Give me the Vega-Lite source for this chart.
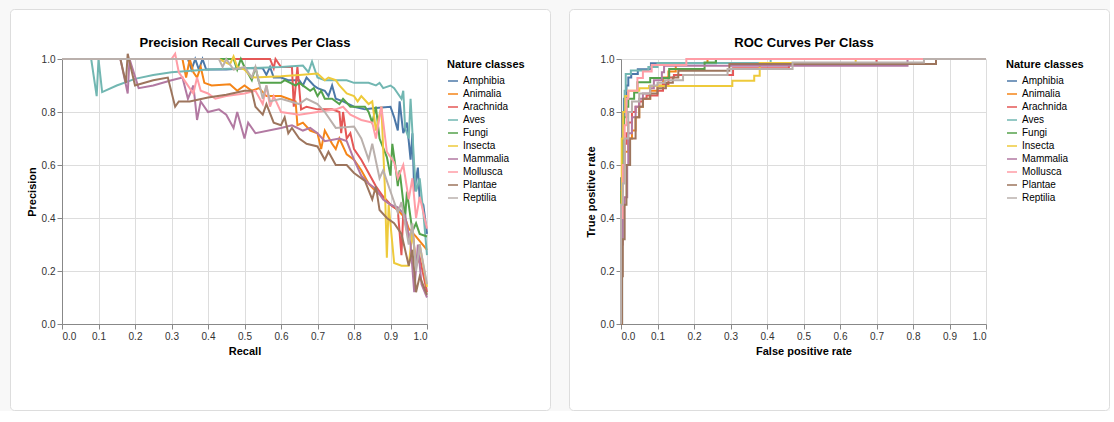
{
  "$schema": "https://vega.github.io/schema/vega-lite/v6.json",
  "background": "#f8f8f8",
  "padding": {"left": 9, "top": 8, "right": 0, "bottom": 0},
  "spacing": 17,
  "datasets": {
    "pr": [
      {"class": "Amphibia", "recall": 0, "precision": 1},
      {"class": "Amphibia", "recall": 0.345, "precision": 1},
      {"class": "Amphibia", "recall": 0.355, "precision": 0.96},
      {"class": "Amphibia", "recall": 0.365, "precision": 1},
      {"class": "Amphibia", "recall": 0.375, "precision": 0.96},
      {"class": "Amphibia", "recall": 0.385, "precision": 1},
      {"class": "Amphibia", "recall": 0.395, "precision": 0.96},
      {"class": "Amphibia", "recall": 0.45, "precision": 0.96},
      {"class": "Amphibia", "recall": 0.5, "precision": 0.965},
      {"class": "Amphibia", "recall": 0.55, "precision": 0.965},
      {"class": "Amphibia", "recall": 0.56, "precision": 0.94},
      {"class": "Amphibia", "recall": 0.57, "precision": 0.97},
      {"class": "Amphibia", "recall": 0.58, "precision": 0.93},
      {"class": "Amphibia", "recall": 0.6, "precision": 0.93},
      {"class": "Amphibia", "recall": 0.62, "precision": 0.92},
      {"class": "Amphibia", "recall": 0.65, "precision": 0.92},
      {"class": "Amphibia", "recall": 0.66, "precision": 0.9},
      {"class": "Amphibia", "recall": 0.67, "precision": 0.93},
      {"class": "Amphibia", "recall": 0.69, "precision": 0.9},
      {"class": "Amphibia", "recall": 0.7, "precision": 0.89},
      {"class": "Amphibia", "recall": 0.72, "precision": 0.88},
      {"class": "Amphibia", "recall": 0.73, "precision": 0.86},
      {"class": "Amphibia", "recall": 0.74, "precision": 0.9},
      {"class": "Amphibia", "recall": 0.75, "precision": 0.85},
      {"class": "Amphibia", "recall": 0.77, "precision": 0.84},
      {"class": "Amphibia", "recall": 0.8, "precision": 0.82},
      {"class": "Amphibia", "recall": 0.83, "precision": 0.81},
      {"class": "Amphibia", "recall": 0.86, "precision": 0.815},
      {"class": "Amphibia", "recall": 0.9, "precision": 0.82},
      {"class": "Amphibia", "recall": 0.91, "precision": 0.78},
      {"class": "Amphibia", "recall": 0.92, "precision": 0.73},
      {"class": "Amphibia", "recall": 0.925, "precision": 0.84},
      {"class": "Amphibia", "recall": 0.935, "precision": 0.72},
      {"class": "Amphibia", "recall": 0.945, "precision": 0.76},
      {"class": "Amphibia", "recall": 0.955, "precision": 0.62},
      {"class": "Amphibia", "recall": 0.96, "precision": 0.72},
      {"class": "Amphibia", "recall": 0.965, "precision": 0.5},
      {"class": "Amphibia", "recall": 0.975, "precision": 0.59},
      {"class": "Amphibia", "recall": 0.98, "precision": 0.47},
      {"class": "Amphibia", "recall": 0.99, "precision": 0.45},
      {"class": "Amphibia", "recall": 1.0, "precision": 0.34},

      {"class": "Animalia", "recall": 0, "precision": 1},
      {"class": "Animalia", "recall": 0.33, "precision": 1},
      {"class": "Animalia", "recall": 0.34, "precision": 0.93},
      {"class": "Animalia", "recall": 0.35, "precision": 1},
      {"class": "Animalia", "recall": 0.36, "precision": 0.95},
      {"class": "Animalia", "recall": 0.37, "precision": 0.93},
      {"class": "Animalia", "recall": 0.38, "precision": 0.97},
      {"class": "Animalia", "recall": 0.39, "precision": 0.91},
      {"class": "Animalia", "recall": 0.41, "precision": 0.9},
      {"class": "Animalia", "recall": 0.46, "precision": 0.905},
      {"class": "Animalia", "recall": 0.48, "precision": 0.88},
      {"class": "Animalia", "recall": 0.5, "precision": 0.9},
      {"class": "Animalia", "recall": 0.52, "precision": 0.88},
      {"class": "Animalia", "recall": 0.54, "precision": 0.89},
      {"class": "Animalia", "recall": 0.56, "precision": 0.86},
      {"class": "Animalia", "recall": 0.6, "precision": 0.86},
      {"class": "Animalia", "recall": 0.62, "precision": 0.85},
      {"class": "Animalia", "recall": 0.64, "precision": 0.84},
      {"class": "Animalia", "recall": 0.645, "precision": 0.75},
      {"class": "Animalia", "recall": 0.66, "precision": 0.76},
      {"class": "Animalia", "recall": 0.68, "precision": 0.73},
      {"class": "Animalia", "recall": 0.7, "precision": 0.72},
      {"class": "Animalia", "recall": 0.71, "precision": 0.66},
      {"class": "Animalia", "recall": 0.72, "precision": 0.73},
      {"class": "Animalia", "recall": 0.74, "precision": 0.68},
      {"class": "Animalia", "recall": 0.75, "precision": 0.66},
      {"class": "Animalia", "recall": 0.76, "precision": 0.7},
      {"class": "Animalia", "recall": 0.78, "precision": 0.64},
      {"class": "Animalia", "recall": 0.8, "precision": 0.62},
      {"class": "Animalia", "recall": 0.82, "precision": 0.58},
      {"class": "Animalia", "recall": 0.84, "precision": 0.53},
      {"class": "Animalia", "recall": 0.86, "precision": 0.5},
      {"class": "Animalia", "recall": 0.88, "precision": 0.48},
      {"class": "Animalia", "recall": 0.9, "precision": 0.45},
      {"class": "Animalia", "recall": 0.92, "precision": 0.43},
      {"class": "Animalia", "recall": 0.94, "precision": 0.4},
      {"class": "Animalia", "recall": 0.95, "precision": 0.36},
      {"class": "Animalia", "recall": 0.97, "precision": 0.33},
      {"class": "Animalia", "recall": 1.0, "precision": 0.28},

      {"class": "Arachnida", "recall": 0, "precision": 1},
      {"class": "Arachnida", "recall": 0.57, "precision": 1},
      {"class": "Arachnida", "recall": 0.58, "precision": 0.965},
      {"class": "Arachnida", "recall": 0.585, "precision": 1},
      {"class": "Arachnida", "recall": 0.6, "precision": 0.97},
      {"class": "Arachnida", "recall": 0.63, "precision": 0.97},
      {"class": "Arachnida", "recall": 0.635, "precision": 0.82},
      {"class": "Arachnida", "recall": 0.645, "precision": 0.97},
      {"class": "Arachnida", "recall": 0.655, "precision": 0.81},
      {"class": "Arachnida", "recall": 0.67, "precision": 0.82},
      {"class": "Arachnida", "recall": 0.7, "precision": 0.81},
      {"class": "Arachnida", "recall": 0.74, "precision": 0.81},
      {"class": "Arachnida", "recall": 0.76, "precision": 0.8},
      {"class": "Arachnida", "recall": 0.765, "precision": 0.72},
      {"class": "Arachnida", "recall": 0.77, "precision": 0.8},
      {"class": "Arachnida", "recall": 0.78, "precision": 0.7},
      {"class": "Arachnida", "recall": 0.79, "precision": 0.72},
      {"class": "Arachnida", "recall": 0.8, "precision": 0.66},
      {"class": "Arachnida", "recall": 0.82, "precision": 0.62},
      {"class": "Arachnida", "recall": 0.84, "precision": 0.57},
      {"class": "Arachnida", "recall": 0.86, "precision": 0.52},
      {"class": "Arachnida", "recall": 0.88, "precision": 0.48},
      {"class": "Arachnida", "recall": 0.9, "precision": 0.45},
      {"class": "Arachnida", "recall": 0.92, "precision": 0.43},
      {"class": "Arachnida", "recall": 0.93, "precision": 0.26},
      {"class": "Arachnida", "recall": 0.935, "precision": 0.42},
      {"class": "Arachnida", "recall": 0.95, "precision": 0.32},
      {"class": "Arachnida", "recall": 0.96, "precision": 0.36},
      {"class": "Arachnida", "recall": 0.97, "precision": 0.22},
      {"class": "Arachnida", "recall": 0.98, "precision": 0.25},
      {"class": "Arachnida", "recall": 1.0, "precision": 0.12},

      {"class": "Aves", "recall": 0, "precision": 1},
      {"class": "Aves", "recall": 0.08, "precision": 1},
      {"class": "Aves", "recall": 0.095, "precision": 0.86},
      {"class": "Aves", "recall": 0.1, "precision": 1},
      {"class": "Aves", "recall": 0.11, "precision": 0.875},
      {"class": "Aves", "recall": 0.15, "precision": 0.9},
      {"class": "Aves", "recall": 0.2, "precision": 0.925},
      {"class": "Aves", "recall": 0.25, "precision": 0.94},
      {"class": "Aves", "recall": 0.3, "precision": 0.95},
      {"class": "Aves", "recall": 0.4, "precision": 0.96},
      {"class": "Aves", "recall": 0.5, "precision": 0.965},
      {"class": "Aves", "recall": 0.6, "precision": 0.97},
      {"class": "Aves", "recall": 0.66, "precision": 0.975},
      {"class": "Aves", "recall": 0.675, "precision": 0.95},
      {"class": "Aves", "recall": 0.685, "precision": 0.99},
      {"class": "Aves", "recall": 0.7, "precision": 0.93},
      {"class": "Aves", "recall": 0.72, "precision": 0.92},
      {"class": "Aves", "recall": 0.78, "precision": 0.92},
      {"class": "Aves", "recall": 0.8, "precision": 0.91},
      {"class": "Aves", "recall": 0.84, "precision": 0.91},
      {"class": "Aves", "recall": 0.86, "precision": 0.9},
      {"class": "Aves", "recall": 0.87, "precision": 0.91},
      {"class": "Aves", "recall": 0.88, "precision": 0.89},
      {"class": "Aves", "recall": 0.9, "precision": 0.9},
      {"class": "Aves", "recall": 0.91, "precision": 0.89},
      {"class": "Aves", "recall": 0.92, "precision": 0.87},
      {"class": "Aves", "recall": 0.93, "precision": 0.85},
      {"class": "Aves", "recall": 0.935, "precision": 0.88},
      {"class": "Aves", "recall": 0.94, "precision": 0.74},
      {"class": "Aves", "recall": 0.95, "precision": 0.7},
      {"class": "Aves", "recall": 0.955, "precision": 0.85},
      {"class": "Aves", "recall": 0.965, "precision": 0.6},
      {"class": "Aves", "recall": 0.97, "precision": 0.5},
      {"class": "Aves", "recall": 0.98, "precision": 0.55},
      {"class": "Aves", "recall": 0.99, "precision": 0.42},
      {"class": "Aves", "recall": 1.0, "precision": 0.26},

      {"class": "Fungi", "recall": 0, "precision": 1},
      {"class": "Fungi", "recall": 0.47, "precision": 1},
      {"class": "Fungi", "recall": 0.48, "precision": 0.96},
      {"class": "Fungi", "recall": 0.49, "precision": 1},
      {"class": "Fungi", "recall": 0.5, "precision": 0.97},
      {"class": "Fungi", "recall": 0.52, "precision": 0.92},
      {"class": "Fungi", "recall": 0.53, "precision": 0.97},
      {"class": "Fungi", "recall": 0.54, "precision": 0.91},
      {"class": "Fungi", "recall": 0.6, "precision": 0.91},
      {"class": "Fungi", "recall": 0.61, "precision": 0.92},
      {"class": "Fungi", "recall": 0.64, "precision": 0.9},
      {"class": "Fungi", "recall": 0.65, "precision": 0.91},
      {"class": "Fungi", "recall": 0.68, "precision": 0.88},
      {"class": "Fungi", "recall": 0.69, "precision": 0.89},
      {"class": "Fungi", "recall": 0.7, "precision": 0.86},
      {"class": "Fungi", "recall": 0.71, "precision": 0.88},
      {"class": "Fungi", "recall": 0.72, "precision": 0.85},
      {"class": "Fungi", "recall": 0.74, "precision": 0.85},
      {"class": "Fungi", "recall": 0.76, "precision": 0.83},
      {"class": "Fungi", "recall": 0.77, "precision": 0.85},
      {"class": "Fungi", "recall": 0.79, "precision": 0.82},
      {"class": "Fungi", "recall": 0.83, "precision": 0.82},
      {"class": "Fungi", "recall": 0.84, "precision": 0.8},
      {"class": "Fungi", "recall": 0.85, "precision": 0.76},
      {"class": "Fungi", "recall": 0.86, "precision": 0.82},
      {"class": "Fungi", "recall": 0.87, "precision": 0.7},
      {"class": "Fungi", "recall": 0.89, "precision": 0.63},
      {"class": "Fungi", "recall": 0.9, "precision": 0.56},
      {"class": "Fungi", "recall": 0.905, "precision": 0.68},
      {"class": "Fungi", "recall": 0.915, "precision": 0.58},
      {"class": "Fungi", "recall": 0.92, "precision": 0.52},
      {"class": "Fungi", "recall": 0.925, "precision": 0.58},
      {"class": "Fungi", "recall": 0.94, "precision": 0.4},
      {"class": "Fungi", "recall": 0.945, "precision": 0.5},
      {"class": "Fungi", "recall": 0.96, "precision": 0.35},
      {"class": "Fungi", "recall": 0.97, "precision": 0.38},
      {"class": "Fungi", "recall": 0.98, "precision": 0.34},
      {"class": "Fungi", "recall": 1.0, "precision": 0.33},

      {"class": "Insecta", "recall": 0, "precision": 1},
      {"class": "Insecta", "recall": 0.43, "precision": 1},
      {"class": "Insecta", "recall": 0.46, "precision": 0.98},
      {"class": "Insecta", "recall": 0.47, "precision": 1.01},
      {"class": "Insecta", "recall": 0.48, "precision": 0.97},
      {"class": "Insecta", "recall": 0.5, "precision": 0.96},
      {"class": "Insecta", "recall": 0.52, "precision": 0.93},
      {"class": "Insecta", "recall": 0.6, "precision": 0.935},
      {"class": "Insecta", "recall": 0.65, "precision": 0.94},
      {"class": "Insecta", "recall": 0.7, "precision": 0.945},
      {"class": "Insecta", "recall": 0.72, "precision": 0.92},
      {"class": "Insecta", "recall": 0.73, "precision": 0.93},
      {"class": "Insecta", "recall": 0.75, "precision": 0.92},
      {"class": "Insecta", "recall": 0.76, "precision": 0.9},
      {"class": "Insecta", "recall": 0.78, "precision": 0.87},
      {"class": "Insecta", "recall": 0.8, "precision": 0.86},
      {"class": "Insecta", "recall": 0.81, "precision": 0.84},
      {"class": "Insecta", "recall": 0.82, "precision": 0.86},
      {"class": "Insecta", "recall": 0.84, "precision": 0.83},
      {"class": "Insecta", "recall": 0.85, "precision": 0.84},
      {"class": "Insecta", "recall": 0.86, "precision": 0.73},
      {"class": "Insecta", "recall": 0.875, "precision": 0.82},
      {"class": "Insecta", "recall": 0.885, "precision": 0.5},
      {"class": "Insecta", "recall": 0.89, "precision": 0.25},
      {"class": "Insecta", "recall": 0.895, "precision": 0.45},
      {"class": "Insecta", "recall": 0.91, "precision": 0.23},
      {"class": "Insecta", "recall": 0.93, "precision": 0.22},
      {"class": "Insecta", "recall": 0.95, "precision": 0.22},
      {"class": "Insecta", "recall": 0.96, "precision": 0.35},
      {"class": "Insecta", "recall": 0.97, "precision": 0.22},
      {"class": "Insecta", "recall": 0.98, "precision": 0.3},
      {"class": "Insecta", "recall": 1.0, "precision": 0.14},

      {"class": "Mammalia", "recall": 0, "precision": 1},
      {"class": "Mammalia", "recall": 0.16, "precision": 1},
      {"class": "Mammalia", "recall": 0.18, "precision": 0.87},
      {"class": "Mammalia", "recall": 0.185, "precision": 1},
      {"class": "Mammalia", "recall": 0.21, "precision": 0.89},
      {"class": "Mammalia", "recall": 0.25, "precision": 0.9},
      {"class": "Mammalia", "recall": 0.3, "precision": 0.92},
      {"class": "Mammalia", "recall": 0.33, "precision": 0.93},
      {"class": "Mammalia", "recall": 0.345, "precision": 0.85},
      {"class": "Mammalia", "recall": 0.36, "precision": 0.9},
      {"class": "Mammalia", "recall": 0.37, "precision": 0.77},
      {"class": "Mammalia", "recall": 0.38, "precision": 0.84},
      {"class": "Mammalia", "recall": 0.4, "precision": 0.8},
      {"class": "Mammalia", "recall": 0.43, "precision": 0.81},
      {"class": "Mammalia", "recall": 0.45, "precision": 0.79},
      {"class": "Mammalia", "recall": 0.47, "precision": 0.74},
      {"class": "Mammalia", "recall": 0.48, "precision": 0.8},
      {"class": "Mammalia", "recall": 0.5, "precision": 0.7},
      {"class": "Mammalia", "recall": 0.51, "precision": 0.76},
      {"class": "Mammalia", "recall": 0.53, "precision": 0.72},
      {"class": "Mammalia", "recall": 0.6, "precision": 0.74},
      {"class": "Mammalia", "recall": 0.63, "precision": 0.75},
      {"class": "Mammalia", "recall": 0.66, "precision": 0.73},
      {"class": "Mammalia", "recall": 0.68, "precision": 0.74},
      {"class": "Mammalia", "recall": 0.7, "precision": 0.72},
      {"class": "Mammalia", "recall": 0.72, "precision": 0.69},
      {"class": "Mammalia", "recall": 0.76, "precision": 0.7},
      {"class": "Mammalia", "recall": 0.78, "precision": 0.69},
      {"class": "Mammalia", "recall": 0.8, "precision": 0.62},
      {"class": "Mammalia", "recall": 0.82, "precision": 0.56},
      {"class": "Mammalia", "recall": 0.84, "precision": 0.53},
      {"class": "Mammalia", "recall": 0.86, "precision": 0.51},
      {"class": "Mammalia", "recall": 0.88, "precision": 0.47},
      {"class": "Mammalia", "recall": 0.9, "precision": 0.45},
      {"class": "Mammalia", "recall": 0.92, "precision": 0.44},
      {"class": "Mammalia", "recall": 0.94, "precision": 0.41},
      {"class": "Mammalia", "recall": 0.955, "precision": 0.3},
      {"class": "Mammalia", "recall": 0.965, "precision": 0.12},
      {"class": "Mammalia", "recall": 0.975, "precision": 0.3},
      {"class": "Mammalia", "recall": 0.985, "precision": 0.15},
      {"class": "Mammalia", "recall": 1.0, "precision": 0.1},

      {"class": "Mollusca", "recall": 0, "precision": 1},
      {"class": "Mollusca", "recall": 0.3, "precision": 1},
      {"class": "Mollusca", "recall": 0.31, "precision": 1.02},
      {"class": "Mollusca", "recall": 0.32, "precision": 0.95},
      {"class": "Mollusca", "recall": 0.34, "precision": 0.91},
      {"class": "Mollusca", "recall": 0.36, "precision": 0.87},
      {"class": "Mollusca", "recall": 0.37, "precision": 0.93},
      {"class": "Mollusca", "recall": 0.38, "precision": 0.88},
      {"class": "Mollusca", "recall": 0.4, "precision": 0.87},
      {"class": "Mollusca", "recall": 0.42, "precision": 0.85},
      {"class": "Mollusca", "recall": 0.45, "precision": 0.86},
      {"class": "Mollusca", "recall": 0.5, "precision": 0.87},
      {"class": "Mollusca", "recall": 0.53, "precision": 0.88},
      {"class": "Mollusca", "recall": 0.55, "precision": 0.83},
      {"class": "Mollusca", "recall": 0.56, "precision": 0.9},
      {"class": "Mollusca", "recall": 0.57, "precision": 0.82},
      {"class": "Mollusca", "recall": 0.58, "precision": 0.86},
      {"class": "Mollusca", "recall": 0.6, "precision": 0.8},
      {"class": "Mollusca", "recall": 0.65, "precision": 0.79},
      {"class": "Mollusca", "recall": 0.7, "precision": 0.8},
      {"class": "Mollusca", "recall": 0.75, "precision": 0.81},
      {"class": "Mollusca", "recall": 0.77, "precision": 0.82},
      {"class": "Mollusca", "recall": 0.79, "precision": 0.79},
      {"class": "Mollusca", "recall": 0.82, "precision": 0.77},
      {"class": "Mollusca", "recall": 0.85, "precision": 0.76},
      {"class": "Mollusca", "recall": 0.86, "precision": 0.7},
      {"class": "Mollusca", "recall": 0.875, "precision": 0.82},
      {"class": "Mollusca", "recall": 0.89, "precision": 0.65},
      {"class": "Mollusca", "recall": 0.91, "precision": 0.61},
      {"class": "Mollusca", "recall": 0.92, "precision": 0.55},
      {"class": "Mollusca", "recall": 0.935, "precision": 0.6},
      {"class": "Mollusca", "recall": 0.95, "precision": 0.47},
      {"class": "Mollusca", "recall": 0.96, "precision": 0.55},
      {"class": "Mollusca", "recall": 0.97, "precision": 0.4},
      {"class": "Mollusca", "recall": 0.98, "precision": 0.48},
      {"class": "Mollusca", "recall": 1.0, "precision": 0.36},

      {"class": "Plantae", "recall": 0, "precision": 1},
      {"class": "Plantae", "recall": 0.16, "precision": 1},
      {"class": "Plantae", "recall": 0.175, "precision": 0.91},
      {"class": "Plantae", "recall": 0.18, "precision": 1.02},
      {"class": "Plantae", "recall": 0.2, "precision": 0.9},
      {"class": "Plantae", "recall": 0.25, "precision": 0.92},
      {"class": "Plantae", "recall": 0.29, "precision": 0.93},
      {"class": "Plantae", "recall": 0.31, "precision": 0.82},
      {"class": "Plantae", "recall": 0.32, "precision": 0.84},
      {"class": "Plantae", "recall": 0.35, "precision": 0.84},
      {"class": "Plantae", "recall": 0.4, "precision": 0.855},
      {"class": "Plantae", "recall": 0.45, "precision": 0.865},
      {"class": "Plantae", "recall": 0.5, "precision": 0.88},
      {"class": "Plantae", "recall": 0.52, "precision": 0.88},
      {"class": "Plantae", "recall": 0.53, "precision": 0.82},
      {"class": "Plantae", "recall": 0.55, "precision": 0.79},
      {"class": "Plantae", "recall": 0.56, "precision": 0.83},
      {"class": "Plantae", "recall": 0.58, "precision": 0.76},
      {"class": "Plantae", "recall": 0.6, "precision": 0.75},
      {"class": "Plantae", "recall": 0.61, "precision": 0.78},
      {"class": "Plantae", "recall": 0.62, "precision": 0.72},
      {"class": "Plantae", "recall": 0.63, "precision": 0.74},
      {"class": "Plantae", "recall": 0.65, "precision": 0.7},
      {"class": "Plantae", "recall": 0.67, "precision": 0.68},
      {"class": "Plantae", "recall": 0.7, "precision": 0.67},
      {"class": "Plantae", "recall": 0.72, "precision": 0.62},
      {"class": "Plantae", "recall": 0.73, "precision": 0.65},
      {"class": "Plantae", "recall": 0.75, "precision": 0.6},
      {"class": "Plantae", "recall": 0.78, "precision": 0.6},
      {"class": "Plantae", "recall": 0.8, "precision": 0.57},
      {"class": "Plantae", "recall": 0.83, "precision": 0.54},
      {"class": "Plantae", "recall": 0.85, "precision": 0.47},
      {"class": "Plantae", "recall": 0.86, "precision": 0.52},
      {"class": "Plantae", "recall": 0.87, "precision": 0.43},
      {"class": "Plantae", "recall": 0.89, "precision": 0.4},
      {"class": "Plantae", "recall": 0.91, "precision": 0.38},
      {"class": "Plantae", "recall": 0.93, "precision": 0.34},
      {"class": "Plantae", "recall": 0.95, "precision": 0.22},
      {"class": "Plantae", "recall": 0.96, "precision": 0.28},
      {"class": "Plantae", "recall": 0.97, "precision": 0.12},
      {"class": "Plantae", "recall": 0.98, "precision": 0.18},
      {"class": "Plantae", "recall": 1.0, "precision": 0.11},

      {"class": "Reptilia", "recall": 0, "precision": 1},
      {"class": "Reptilia", "recall": 0.43, "precision": 1},
      {"class": "Reptilia", "recall": 0.44, "precision": 0.97},
      {"class": "Reptilia", "recall": 0.45, "precision": 1},
      {"class": "Reptilia", "recall": 0.47, "precision": 0.96},
      {"class": "Reptilia", "recall": 0.5, "precision": 0.97},
      {"class": "Reptilia", "recall": 0.52, "precision": 0.93},
      {"class": "Reptilia", "recall": 0.53, "precision": 0.97},
      {"class": "Reptilia", "recall": 0.55, "precision": 0.85},
      {"class": "Reptilia", "recall": 0.56, "precision": 0.9},
      {"class": "Reptilia", "recall": 0.57, "precision": 0.84},
      {"class": "Reptilia", "recall": 0.6, "precision": 0.85},
      {"class": "Reptilia", "recall": 0.65, "precision": 0.83},
      {"class": "Reptilia", "recall": 0.67, "precision": 0.85},
      {"class": "Reptilia", "recall": 0.7, "precision": 0.83},
      {"class": "Reptilia", "recall": 0.72, "precision": 0.8},
      {"class": "Reptilia", "recall": 0.75, "precision": 0.74},
      {"class": "Reptilia", "recall": 0.8, "precision": 0.745},
      {"class": "Reptilia", "recall": 0.82, "precision": 0.7},
      {"class": "Reptilia", "recall": 0.84, "precision": 0.62},
      {"class": "Reptilia", "recall": 0.85, "precision": 0.68},
      {"class": "Reptilia", "recall": 0.87, "precision": 0.55},
      {"class": "Reptilia", "recall": 0.88, "precision": 0.58},
      {"class": "Reptilia", "recall": 0.9, "precision": 0.5},
      {"class": "Reptilia", "recall": 0.92, "precision": 0.42},
      {"class": "Reptilia", "recall": 0.93, "precision": 0.46},
      {"class": "Reptilia", "recall": 0.95, "precision": 0.3},
      {"class": "Reptilia", "recall": 0.96, "precision": 0.38},
      {"class": "Reptilia", "recall": 0.97, "precision": 0.2},
      {"class": "Reptilia", "recall": 0.98, "precision": 0.3},
      {"class": "Reptilia", "recall": 1.0, "precision": 0.15}
    ],
    "roc": [
      {"class": "Amphibia", "fpr": 0, "tpr": 0},
      {"class": "Amphibia", "fpr": 0, "tpr": 0.55},
      {"class": "Amphibia", "fpr": 0.003, "tpr": 0.7},
      {"class": "Amphibia", "fpr": 0.008, "tpr": 0.85},
      {"class": "Amphibia", "fpr": 0.015, "tpr": 0.9},
      {"class": "Amphibia", "fpr": 0.02, "tpr": 0.93},
      {"class": "Amphibia", "fpr": 0.028, "tpr": 0.943},
      {"class": "Amphibia", "fpr": 0.046, "tpr": 0.961},
      {"class": "Amphibia", "fpr": 0.082, "tpr": 0.984},
      {"class": "Amphibia", "fpr": 0.26, "tpr": 1},
      {"class": "Amphibia", "fpr": 1, "tpr": 1},

      {"class": "Animalia", "fpr": 0, "tpr": 0},
      {"class": "Animalia", "fpr": 0, "tpr": 0.5},
      {"class": "Animalia", "fpr": 0.005, "tpr": 0.6},
      {"class": "Animalia", "fpr": 0.01, "tpr": 0.65},
      {"class": "Animalia", "fpr": 0.02, "tpr": 0.7},
      {"class": "Animalia", "fpr": 0.03, "tpr": 0.73},
      {"class": "Animalia", "fpr": 0.04, "tpr": 0.78},
      {"class": "Animalia", "fpr": 0.05, "tpr": 0.82},
      {"class": "Animalia", "fpr": 0.06, "tpr": 0.85},
      {"class": "Animalia", "fpr": 0.08, "tpr": 0.88},
      {"class": "Animalia", "fpr": 0.1, "tpr": 0.9},
      {"class": "Animalia", "fpr": 0.115, "tpr": 0.93},
      {"class": "Animalia", "fpr": 0.13, "tpr": 0.953},
      {"class": "Animalia", "fpr": 0.15, "tpr": 0.985},
      {"class": "Animalia", "fpr": 0.237, "tpr": 1},
      {"class": "Animalia", "fpr": 1, "tpr": 1},

      {"class": "Arachnida", "fpr": 0, "tpr": 0},
      {"class": "Arachnida", "fpr": 0, "tpr": 0.5},
      {"class": "Arachnida", "fpr": 0.005, "tpr": 0.6},
      {"class": "Arachnida", "fpr": 0.01, "tpr": 0.68},
      {"class": "Arachnida", "fpr": 0.015, "tpr": 0.72},
      {"class": "Arachnida", "fpr": 0.02, "tpr": 0.76},
      {"class": "Arachnida", "fpr": 0.03, "tpr": 0.8},
      {"class": "Arachnida", "fpr": 0.04, "tpr": 0.82},
      {"class": "Arachnida", "fpr": 0.05, "tpr": 0.84},
      {"class": "Arachnida", "fpr": 0.06, "tpr": 0.85},
      {"class": "Arachnida", "fpr": 0.07, "tpr": 0.862},
      {"class": "Arachnida", "fpr": 0.1, "tpr": 0.88},
      {"class": "Arachnida", "fpr": 0.115, "tpr": 0.906},
      {"class": "Arachnida", "fpr": 0.13, "tpr": 0.93},
      {"class": "Arachnida", "fpr": 0.145, "tpr": 0.94},
      {"class": "Arachnida", "fpr": 0.307, "tpr": 0.965},
      {"class": "Arachnida", "fpr": 0.46, "tpr": 0.985},
      {"class": "Arachnida", "fpr": 0.7, "tpr": 1},
      {"class": "Arachnida", "fpr": 1, "tpr": 1},

      {"class": "Aves", "fpr": 0, "tpr": 0},
      {"class": "Aves", "fpr": 0.003, "tpr": 0.6},
      {"class": "Aves", "fpr": 0.006, "tpr": 0.8},
      {"class": "Aves", "fpr": 0.01, "tpr": 0.88},
      {"class": "Aves", "fpr": 0.013, "tpr": 0.943},
      {"class": "Aves", "fpr": 0.027, "tpr": 0.957},
      {"class": "Aves", "fpr": 0.075, "tpr": 0.97},
      {"class": "Aves", "fpr": 0.1, "tpr": 0.985},
      {"class": "Aves", "fpr": 0.41, "tpr": 1},
      {"class": "Aves", "fpr": 1, "tpr": 1},

      {"class": "Fungi", "fpr": 0, "tpr": 0},
      {"class": "Fungi", "fpr": 0, "tpr": 0.5},
      {"class": "Fungi", "fpr": 0.004, "tpr": 0.7},
      {"class": "Fungi", "fpr": 0.008, "tpr": 0.78},
      {"class": "Fungi", "fpr": 0.015, "tpr": 0.82},
      {"class": "Fungi", "fpr": 0.02, "tpr": 0.85},
      {"class": "Fungi", "fpr": 0.036, "tpr": 0.874},
      {"class": "Fungi", "fpr": 0.045, "tpr": 0.912},
      {"class": "Fungi", "fpr": 0.08, "tpr": 0.928},
      {"class": "Fungi", "fpr": 0.132, "tpr": 0.962},
      {"class": "Fungi", "fpr": 0.229, "tpr": 0.987},
      {"class": "Fungi", "fpr": 0.26, "tpr": 1},
      {"class": "Fungi", "fpr": 1, "tpr": 1},

      {"class": "Insecta", "fpr": 0, "tpr": 0},
      {"class": "Insecta", "fpr": 0, "tpr": 0.45},
      {"class": "Insecta", "fpr": 0.002, "tpr": 0.7},
      {"class": "Insecta", "fpr": 0.006, "tpr": 0.8},
      {"class": "Insecta", "fpr": 0.012, "tpr": 0.86},
      {"class": "Insecta", "fpr": 0.02, "tpr": 0.88},
      {"class": "Insecta", "fpr": 0.05, "tpr": 0.89},
      {"class": "Insecta", "fpr": 0.077, "tpr": 0.898},
      {"class": "Insecta", "fpr": 0.305, "tpr": 0.918},
      {"class": "Insecta", "fpr": 0.365, "tpr": 0.937},
      {"class": "Insecta", "fpr": 0.38, "tpr": 0.985},
      {"class": "Insecta", "fpr": 0.643, "tpr": 1},
      {"class": "Insecta", "fpr": 1, "tpr": 1},

      {"class": "Mammalia", "fpr": 0, "tpr": 0},
      {"class": "Mammalia", "fpr": 0, "tpr": 0.3},
      {"class": "Mammalia", "fpr": 0.005, "tpr": 0.45},
      {"class": "Mammalia", "fpr": 0.01, "tpr": 0.478},
      {"class": "Mammalia", "fpr": 0.017, "tpr": 0.6},
      {"class": "Mammalia", "fpr": 0.02, "tpr": 0.72},
      {"class": "Mammalia", "fpr": 0.03, "tpr": 0.78},
      {"class": "Mammalia", "fpr": 0.04, "tpr": 0.82},
      {"class": "Mammalia", "fpr": 0.05, "tpr": 0.85},
      {"class": "Mammalia", "fpr": 0.06, "tpr": 0.87},
      {"class": "Mammalia", "fpr": 0.08, "tpr": 0.89},
      {"class": "Mammalia", "fpr": 0.09, "tpr": 0.92},
      {"class": "Mammalia", "fpr": 0.112, "tpr": 0.95},
      {"class": "Mammalia", "fpr": 0.118, "tpr": 0.975},
      {"class": "Mammalia", "fpr": 0.785, "tpr": 1},
      {"class": "Mammalia", "fpr": 1, "tpr": 1},

      {"class": "Mollusca", "fpr": 0, "tpr": 0},
      {"class": "Mollusca", "fpr": 0, "tpr": 0.4},
      {"class": "Mollusca", "fpr": 0.005, "tpr": 0.6},
      {"class": "Mollusca", "fpr": 0.01, "tpr": 0.75},
      {"class": "Mollusca", "fpr": 0.015, "tpr": 0.85},
      {"class": "Mollusca", "fpr": 0.02, "tpr": 0.88},
      {"class": "Mollusca", "fpr": 0.045, "tpr": 0.928},
      {"class": "Mollusca", "fpr": 0.06, "tpr": 0.953},
      {"class": "Mollusca", "fpr": 0.084, "tpr": 0.977},
      {"class": "Mollusca", "fpr": 0.179, "tpr": 1},
      {"class": "Mollusca", "fpr": 1, "tpr": 1},

      {"class": "Plantae", "fpr": 0, "tpr": 0},
      {"class": "Plantae", "fpr": 0.003, "tpr": 0.18},
      {"class": "Plantae", "fpr": 0.005, "tpr": 0.32},
      {"class": "Plantae", "fpr": 0.01, "tpr": 0.45},
      {"class": "Plantae", "fpr": 0.015, "tpr": 0.6},
      {"class": "Plantae", "fpr": 0.025, "tpr": 0.7},
      {"class": "Plantae", "fpr": 0.04, "tpr": 0.78},
      {"class": "Plantae", "fpr": 0.05, "tpr": 0.82},
      {"class": "Plantae", "fpr": 0.06, "tpr": 0.85},
      {"class": "Plantae", "fpr": 0.08, "tpr": 0.87},
      {"class": "Plantae", "fpr": 0.1, "tpr": 0.89},
      {"class": "Plantae", "fpr": 0.123, "tpr": 0.91},
      {"class": "Plantae", "fpr": 0.142, "tpr": 0.93},
      {"class": "Plantae", "fpr": 0.157, "tpr": 0.956},
      {"class": "Plantae", "fpr": 0.297, "tpr": 0.981},
      {"class": "Plantae", "fpr": 0.863, "tpr": 1},
      {"class": "Plantae", "fpr": 1, "tpr": 1},

      {"class": "Reptilia", "fpr": 0, "tpr": 0},
      {"class": "Reptilia", "fpr": 0, "tpr": 0.45},
      {"class": "Reptilia", "fpr": 0.005, "tpr": 0.53},
      {"class": "Reptilia", "fpr": 0.01, "tpr": 0.7},
      {"class": "Reptilia", "fpr": 0.02, "tpr": 0.8},
      {"class": "Reptilia", "fpr": 0.03, "tpr": 0.84},
      {"class": "Reptilia", "fpr": 0.05, "tpr": 0.87},
      {"class": "Reptilia", "fpr": 0.08, "tpr": 0.9},
      {"class": "Reptilia", "fpr": 0.1, "tpr": 0.91},
      {"class": "Reptilia", "fpr": 0.12, "tpr": 0.92},
      {"class": "Reptilia", "fpr": 0.17, "tpr": 0.94},
      {"class": "Reptilia", "fpr": 0.292, "tpr": 0.962},
      {"class": "Reptilia", "fpr": 0.47, "tpr": 0.987},
      {"class": "Reptilia", "fpr": 0.83, "tpr": 1},
      {"class": "Reptilia", "fpr": 1, "tpr": 1}
    ]
  },
  "hconcat": [
    {
      "width": 540,
      "height": 401,
      "title": {
        "text": "Precision Recall Curves Per Class",
        "anchor": "middle",
        "frame": "group",
        "offset": 0,
        "baseline": "middle",
        "dx": -35,
        "dy": 47
      },
      "data": {"name": "pr"},
      "layer": [
        {
          "mark": {"type": "line", "opacity": 0},
          "encoding": {
            "x": {
              "field": "recall",
              "type": "quantitative",
              "scale": {"domain": [0, 1], "range": [52, 417], "nice": false},
              "axis": {"orient": "top", "grid": true, "labels": false, "ticks": false, "domain": false, "title": null, "values": [0, 0.1, 0.2, 0.3, 0.4, 0.5, 0.6, 0.7, 0.8, 0.9, 1]}
            },
            "y": {"field": "precision", "type": "quantitative"}
          }
        },
        {
          "mark": {"type": "line", "strokeWidth": 2, "clip": false},
          "encoding": {
            "x": {
              "field": "recall",
              "type": "quantitative",
              "title": "Recall",
              "axis": {"offset": -86, "grid": false, "values": [0, 0.1, 0.2, 0.3, 0.4, 0.5, 0.6, 0.7, 0.8, 0.9, 1], "format": ".1f"}
            },
            "y": {
              "field": "precision",
              "type": "quantitative",
              "title": "Precision",
              "scale": {"domain": [0, 1], "range": [315, 50], "nice": false},
              "axis": {"offset": -52, "values": [0, 0.2, 0.4, 0.6, 0.8, 1], "format": ".1f"}
            },
            "color": {
              "field": "class",
              "type": "nominal",
              "title": "Nature classes",
              "legend": {"orient": "none", "legendX": 437, "legendY": 50}
            },
            "order": {"field": "recall", "type": "quantitative"}
          }
        }
      ],
      "resolve": {"axis": {"x": "independent"}}
    },
    {
      "width": 540,
      "height": 401,
      "title": {
        "text": "ROC Curves Per Class",
        "anchor": "middle",
        "frame": "group",
        "offset": 0,
        "baseline": "middle",
        "dx": -35,
        "dy": 47
      },
      "data": {"name": "roc"},
      "layer": [
        {
          "mark": {"type": "line", "opacity": 0},
          "encoding": {
            "x": {
              "field": "fpr",
              "type": "quantitative",
              "scale": {"domain": [0, 1], "range": [52, 417], "nice": false},
              "axis": {"orient": "top", "grid": true, "labels": false, "ticks": false, "domain": false, "title": null, "values": [0, 0.1, 0.2, 0.3, 0.4, 0.5, 0.6, 0.7, 0.8, 0.9, 1]}
            },
            "y": {"field": "tpr", "type": "quantitative"}
          }
        },
        {
          "mark": {"type": "line", "strokeWidth": 2, "clip": false, "interpolate": "step-after"},
          "encoding": {
            "x": {
              "field": "fpr",
              "type": "quantitative",
              "title": "False positive rate",
              "axis": {"offset": -86, "grid": false, "values": [0, 0.1, 0.2, 0.3, 0.4, 0.5, 0.6, 0.7, 0.8, 0.9, 1], "format": ".1f"}
            },
            "y": {
              "field": "tpr",
              "type": "quantitative",
              "title": "True positive rate",
              "scale": {"domain": [0, 1], "range": [315, 50], "nice": false},
              "axis": {"offset": -52, "values": [0, 0.2, 0.4, 0.6, 0.8, 1], "format": ".1f"}
            },
            "color": {
              "field": "class",
              "type": "nominal",
              "title": "Nature classes",
              "legend": {"orient": "none", "legendX": 437, "legendY": 50}
            },
            "order": [
              {"field": "fpr", "type": "quantitative"},
              {"field": "tpr", "type": "quantitative"}
            ]
          }
        }
      ],
      "resolve": {"axis": {"x": "independent"}}
    }
  ],
  "resolve": {
    "scale": {"x": "independent", "y": "independent"},
    "legend": {"color": "independent"}
  },
  "config": {
    "font": "Liberation Sans",
    "view": {"fill": "white", "stroke": "#dddddd", "cornerRadius": 4},
    "title": {"fontSize": 13, "fontWeight": "bold", "color": "#000"},
    "axis": {"labelFontSize": 10, "titleFontSize": 11, "labelColor": "#333"}
  }
}
